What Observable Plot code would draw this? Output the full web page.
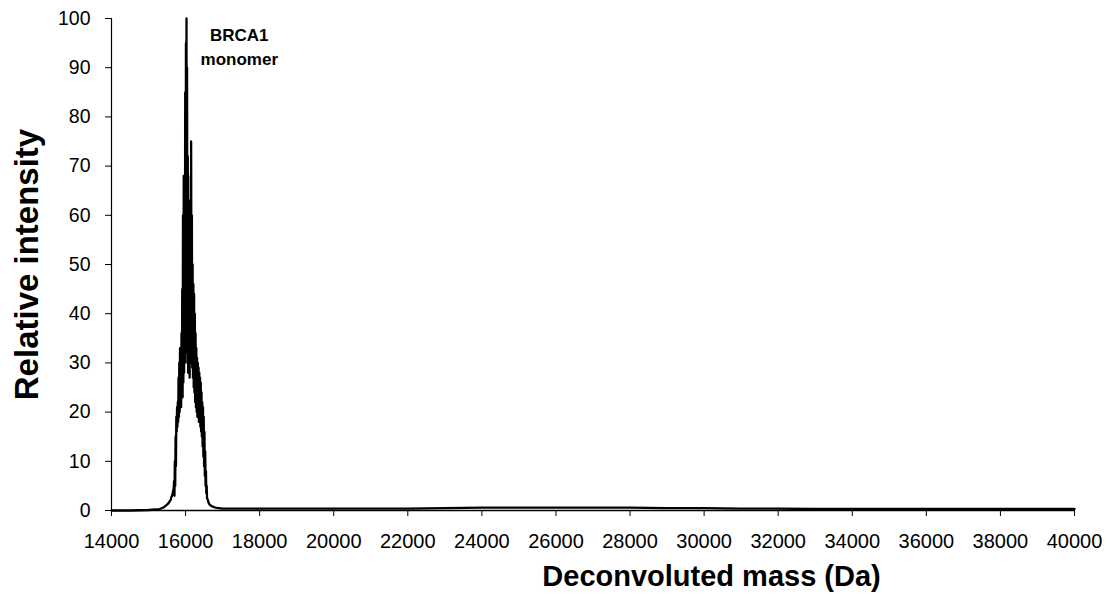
<!DOCTYPE html>
<html>
<head>
<meta charset="utf-8">
<script src="https://cdn.jsdelivr.net/npm/d3@7"></script>
<script src="https://cdn.jsdelivr.net/npm/@observablehq/plot@0.6"></script>
<style>
  html, body { margin: 0; padding: 0; background: #fff; }
  #chart { width: 1107px; height: 597px; }
</style>
</head>
<body>
<div id="chart"></div>
<script>
// Deconvoluted mass (Da) sampled along the spectrum
const massDa = [
  14000, 14500, 15000, 15200, 15300, 15400, 15450, 15500, 15550, 15600,
  15620, 15640, 15660, 15680, 15690, 15700, 15710, 15720, 15730, 15740,
  15750, 15760, 15770, 15780, 15790, 15800, 15810, 15820, 15830, 15840,
  15850, 15860, 15870, 15880, 15890, 15900, 15910, 15920, 15930, 15940,
  15950, 15960, 15970, 15980, 15990, 16000, 16010, 16020, 16025, 16030,
  16040, 16050, 16060, 16070, 16080, 16090, 16100, 16110, 16120, 16130,
  16140, 16145, 16150, 16160, 16170, 16180, 16190, 16200, 16210, 16220,
  16230, 16240, 16250, 16260, 16270, 16280, 16290, 16300, 16310, 16320,
  16330, 16340, 16350, 16360, 16370, 16380, 16390, 16400, 16410, 16420,
  16430, 16440, 16450, 16460, 16470, 16480, 16490, 16500, 16510, 16520,
  16530, 16540, 16550, 16560, 16570, 16580, 16600, 16620, 16650, 16700,
  16800, 16900, 17000, 18000, 19000, 20000, 21000, 22000, 23000, 24000,
  25000, 26000, 27000, 28000, 29000, 30000, 31000, 32000, 33000, 34000,
  35000, 36000, 37000, 38000, 39000, 40000
];
// Relative intensity (%) at each mass above
const relIntensity = [
  0, 0, 0.1, 0.2, 0.3, 0.6, 0.9, 1.2, 1.6, 2.2,
  2.8, 3.1, 3.8, 4.5, 6, 3, 10, 5, 15, 9,
  19, 16, 21, 17, 22, 18, 27, 19, 30, 20,
  33, 22, 31, 21, 36, 24, 45, 23, 60, 26,
  68, 28, 66, 30, 85, 32, 95, 35, 100, 33,
  90, 30, 72, 28, 62, 31, 63, 27, 58, 33,
  68, 30, 75, 35, 60, 29, 50, 27, 46, 25,
  44, 24, 40, 22, 36, 21, 33, 20, 31, 19,
  30, 20, 29, 18, 28, 19, 27, 17, 26, 16,
  24, 15, 22, 13, 21, 11, 19, 9, 16, 7,
  12, 5, 8, 3.5, 5, 2.5, 2.2, 1.6, 1.2, 0.9,
  0.6, 0.5, 0.4, 0.4, 0.4, 0.4, 0.4, 0.4, 0.5, 0.6,
  0.6, 0.6, 0.6, 0.6, 0.5, 0.5, 0.4, 0.4, 0.3, 0.3,
  0.3, 0.3, 0.3, 0.3, 0.3, 0.3
];
const xTicks = [14000, 16000, 18000, 20000, 22000, 24000, 26000, 28000, 30000, 32000, 34000, 36000, 38000, 40000];
const yTicks = [0, 10, 20, 30, 40, 50, 60, 70, 80, 90, 100];
const peakLabel = ["BRCA1", "monomer"];
const xTitle = "Deconvoluted mass (Da)";
const yTitle = "Relative intensity";

const spectrum = massDa.map((m, i) => ({mass: m, intensity: relIntensity[i]}));

const font = "Arial, 'Liberation Sans', Helvetica, sans-serif";

const chart = Plot.plot({
  width: 1107,
  height: 597,
  marginLeft: 111,
  marginRight: 33,
  marginTop: 18,
  marginBottom: 87,
  style: {fontFamily: font, fontSize: "20px", color: "#000", background: "#fff", overflow: "visible"},
  x: {domain: [14000, 40000], label: null},
  y: {domain: [0, 100], label: null},
  marks: [
    Plot.axisX({ticks: xTicks, tickFormat: d => String(d), tickSize: 6, tickPadding: 17, fontSize: 20, label: null, stroke: "#000"}),
    Plot.axisY({ticks: yTicks, tickSize: 6, tickPadding: 15, fontSize: 19.5, label: null, stroke: "#000"}),
    Plot.ruleX([14000], {stroke: "#000", strokeWidth: 1.2}),
    Plot.ruleY([0], {stroke: "#000", strokeWidth: 1.6}),
    Plot.line(spectrum, {x: "mass", y: "intensity", stroke: "#000", strokeWidth: 2.3, strokeLinejoin: "round"}),
    Plot.text(peakLabel, {x: 17450, y: (d, i) => [96.5, 91.6][i], text: d => d, fontWeight: "bold", fontSize: 17, fill: "#000"}),
    Plot.text([xTitle], {frameAnchor: "bottom", x: 30200, dy: 75, text: d => d, fontWeight: "bold", fontSize: 29, fill: "#000"}),
    Plot.text([yTitle], {frameAnchor: "left", textAnchor: "middle", dx: -84, rotate: -90, text: d => d, fontWeight: "bold", fontSize: 33, fill: "#000"})
  ]
});
document.getElementById("chart").appendChild(chart);
</script>
</body>
</html>
